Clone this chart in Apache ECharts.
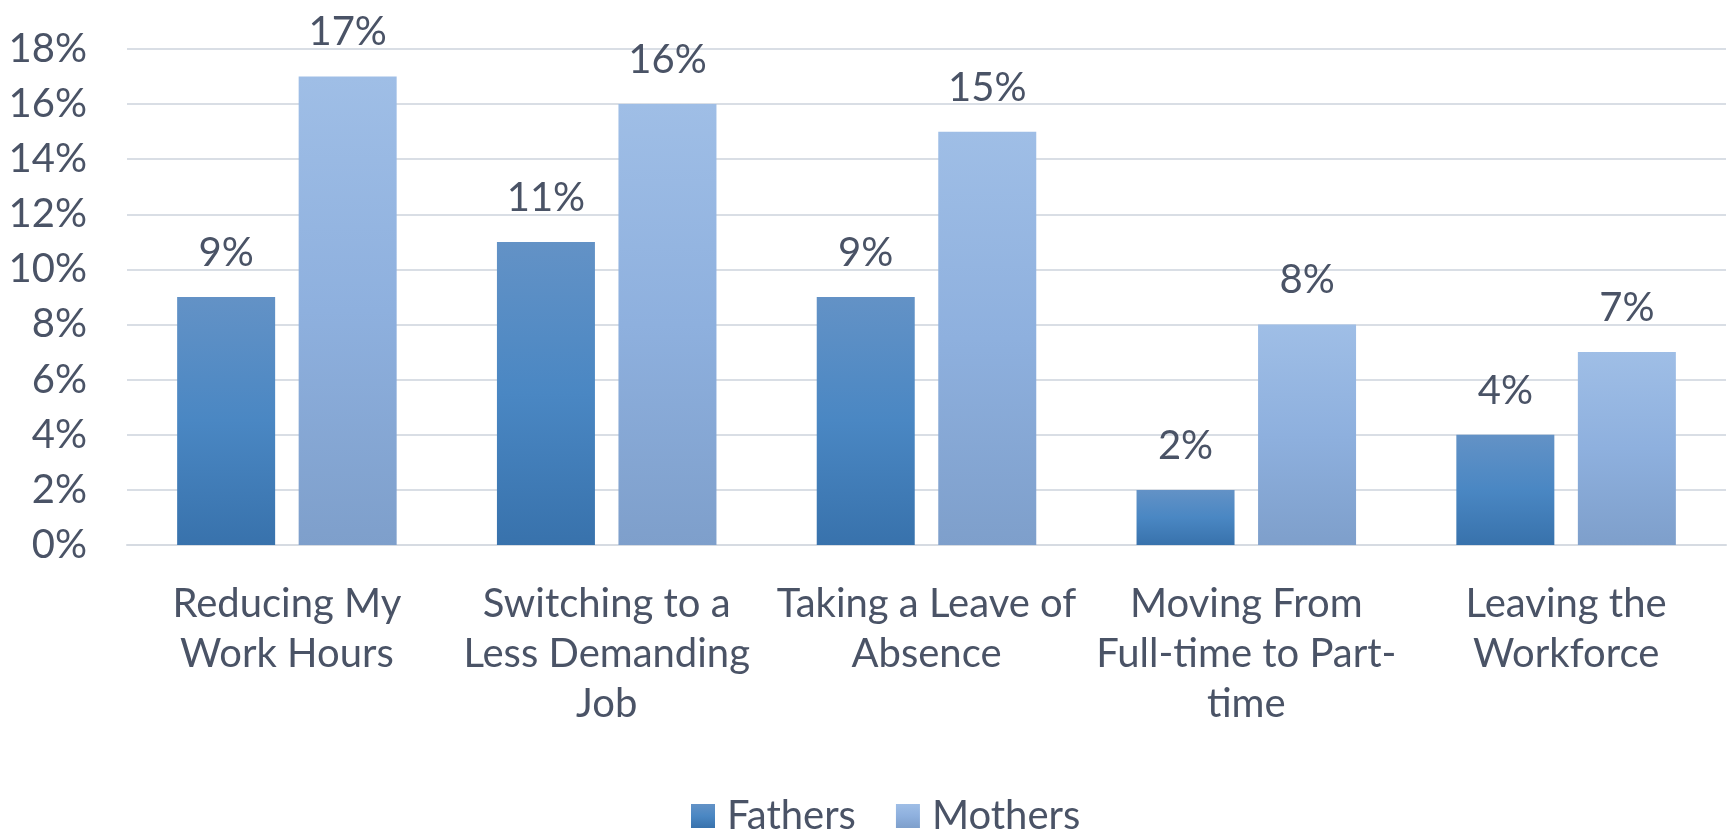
<!DOCTYPE html>
<html>
<head>
<meta charset="utf-8">
<script src="https://cdn.jsdelivr.net/npm/echarts@6/dist/echarts.min.js"></script>
<style>
  html, body { margin: 0; padding: 0; background: #ffffff; }
  #chart { width: 1729px; height: 830px; }
</style>
</head>
<body>
<div id="chart"></div>
<script>
// Work adjustments made by parents (% of respondents)
const categories = [
  'Reducing My\nWork Hours',
  'Switching to a\nLess Demanding\nJob',
  'Taking a Leave of\nAbsence',
  'Moving From\nFull-time to Part-\ntime',
  'Leaving the\nWorkforce'
];
const fathers = [9, 11, 9, 2, 4];
const mothers = [17, 16, 15, 8, 7];
const seriesNames = ['Fathers', 'Mothers'];

const textColor = '#4a5366';
const fontFamily = 'Lato, "Open Sans", sans-serif';
const fontSize = 40;

function vGrad(top, mid, bottom) {
  return new echarts.graphic.LinearGradient(0, 0, 0, 1, [
    { offset: 0, color: top },
    { offset: 0.5, color: mid },
    { offset: 1, color: bottom }
  ]);
}

const chart = echarts.init(document.getElementById('chart'));
chart.setOption({
  backgroundColor: '#ffffff',
  animation: false,
  textStyle: { fontFamily: fontFamily, color: textColor },
  grid: { left: 127, right: 3, top: 49, bottom: 285, containLabel: false },
  legend: {
    data: seriesNames,
    left: 686,
    top: 791,
    itemWidth: 24,
    itemHeight: 24,
    itemGap: 40,
    icon: 'rect',
    textStyle: {
      fontSize: fontSize,
      color: textColor,
      fontFamily: fontFamily,
      padding: [0, 0, 0, 7]
    }
  },
  xAxis: {
    type: 'category',
    data: categories,
    axisLine: { show: true, lineStyle: { color: '#d6dbe2', width: 2 } },
    axisTick: { show: false },
    axisLabel: {
      interval: 0,
      margin: 34,
      fontSize: fontSize,
      lineHeight: 50,
      color: textColor,
      fontFamily: fontFamily
    }
  },
  yAxis: {
    type: 'value',
    min: 0,
    max: 18,
    interval: 2,
    axisLine: { show: false },
    axisTick: { show: false },
    splitLine: { lineStyle: { color: '#d9dee5', width: 2 } },
    axisLabel: {
      formatter: '{value}%',
      margin: 40,
      fontSize: fontSize,
      color: textColor,
      fontFamily: fontFamily
    }
  },
  series: [
    {
      name: seriesNames[0],
      type: 'bar',
      data: fathers,
      barWidth: 98,
      barGap: '24%',
      itemStyle: { color: vGrad('#6392c6', '#4a87c3', '#3872ac') },
      label: {
        show: true,
        position: 'top',
        distance: 24,
        formatter: '{c}%',
        fontSize: fontSize,
        color: textColor,
        fontFamily: fontFamily
      }
    },
    {
      name: seriesNames[1],
      type: 'bar',
      data: mothers,
      barWidth: 98,
      itemStyle: { color: vGrad('#9fbee6', '#8eb0de', '#7e9fcb') },
      label: {
        show: true,
        position: 'top',
        distance: 24,
        formatter: '{c}%',
        fontSize: fontSize,
        color: textColor,
        fontFamily: fontFamily
      }
    }
  ]
});
</script>
</body>
</html>
